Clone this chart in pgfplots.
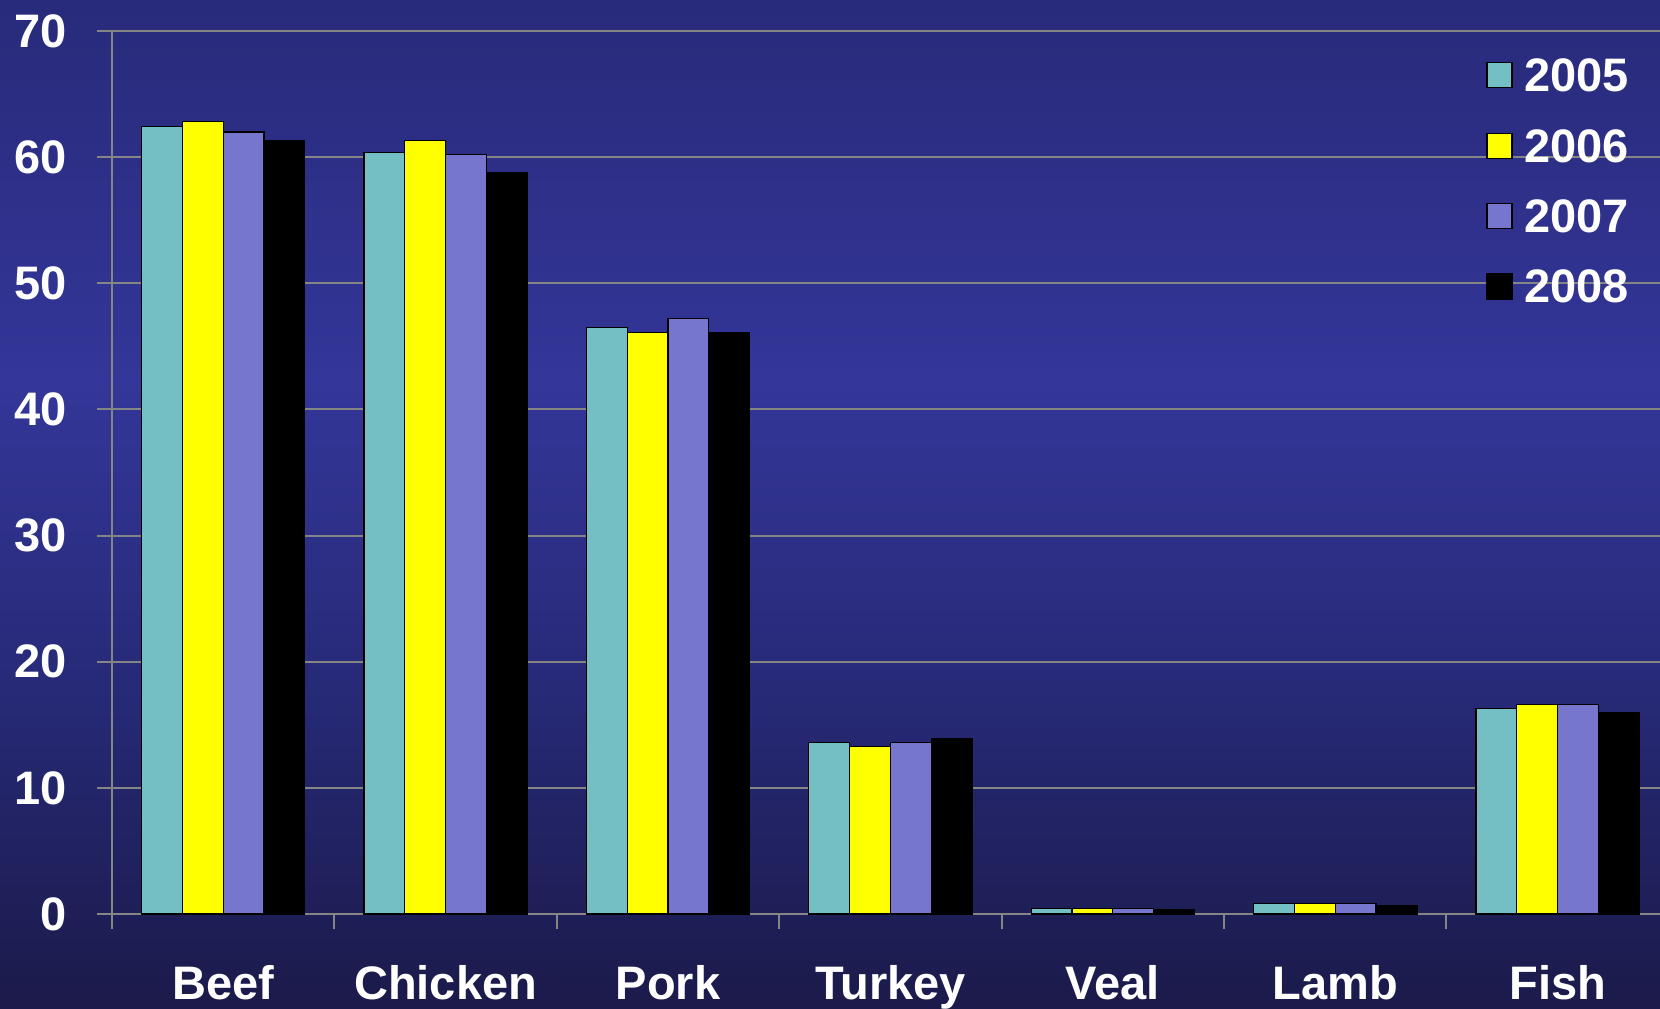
\documentclass[border=0pt]{standalone}
\usepackage{fontspec}
\setmainfont{Liberation Sans}
\usepackage{pgfplots}
\pgfplotsset{compat=1.18}
\definecolor{cTeal}{HTML}{73BFC4}
\definecolor{cYel}{HTML}{FFFF00}
\definecolor{cPur}{HTML}{7676CF}
\definecolor{bgTop}{HTML}{282A7A}
\definecolor{bgMid}{HTML}{343699}
\definecolor{bgLow}{HTML}{262975}
\definecolor{bgBot}{HTML}{1B1A4A}
\definecolor{gridc}{HTML}{858585}
\newcommand{\lblfont}{\bfseries\fontsize{23.5}{24}\selectfont}
\begin{document}
\begin{tikzpicture}
\path[use as bounding box] (0,0) rectangle (830pt,504pt);
\shade[bottom color=bgBot, top color=bgLow] (0,0) rectangle (830pt,151.5pt);
\shade[bottom color=bgLow, top color=bgMid] (0,151pt) rectangle (830pt,313pt);
\shade[bottom color=bgMid, top color=bgTop] (0,312.5pt) rectangle (830pt,504pt);
\begin{axis}[
  at={(56pt,47pt)}, anchor=south west, scale only axis,
  width=774pt, height=441.5pt,
  xmin=-0.5, xmax=6.46, ymin=0, ymax=70,
  ybar, bar width=0.1835,
  axis x line=bottom, axis y line=left,
  x axis line style={-, draw=gridc, line width=1pt},
  y axis line style={-, draw=gridc, line width=1pt},
  tick align=outside, major tick length=7.5pt,
  tick style={draw=gridc, line width=1pt},
  ytick={0,10,...,70},
  ymajorgrids, grid style={draw=gridc, line width=1pt},
  xtick={-0.5,0.5,...,6.5}, xticklabels={},
  extra x ticks={0,1,2,3,4,5,6},
  extra x tick labels={Beef,Chicken,Pork,Turkey,Veal,Lamb,Fish},
  extra x tick style={major tick length=0pt, grid=none,
    tick label style={anchor=base, yshift=-42.5pt, inner sep=0pt}},
  tick label style={font=\lblfont, text=white},
  yticklabel style={anchor=east, inner sep=0pt, xshift=-15pt},
  /pgf/number format/assume math mode=true,
  legend style={at={(0.8876,0.969)}, anchor=north west, draw=none, fill=none,
    inner sep=0pt, row sep=17.3pt, column sep=0pt,
    nodes={inner sep=0pt, text=white, font=\lblfont},
    legend cell align=left},
  legend image code/.code={\draw[#1, line width=0.6pt] (0pt,-5.5pt) rectangle (12.5pt,7pt); \path (18.2pt,0pt);},
]
\addplot[fill=cTeal, draw=black, line width=0.6pt, bar shift=-0.27525]
  coordinates {(0,62.4) (1,60.4) (2,46.5) (3,13.6) (4,0.42) (5,0.85) (6,16.3)};
\addplot[fill=cYel, draw=black, line width=0.6pt, bar shift=-0.09175]
  coordinates {(0,62.8) (1,61.3) (2,46.1) (3,13.3) (4,0.42) (5,0.85) (6,16.6)};
\addplot[fill=cPur, draw=black, line width=0.6pt, bar shift=0.09175]
  coordinates {(0,62.0) (1,60.2) (2,47.2) (3,13.6) (4,0.42) (5,0.85) (6,16.6)};
\addplot[fill=black, draw=black, line width=0.6pt, bar shift=0.27525]
  coordinates {(0,61.3) (1,58.8) (2,46.1) (3,13.9) (4,0.37) (5,0.69) (6,16.0)};
\legend{2005,2006,2007,2008}
\end{axis}
\end{tikzpicture}
\end{document}
